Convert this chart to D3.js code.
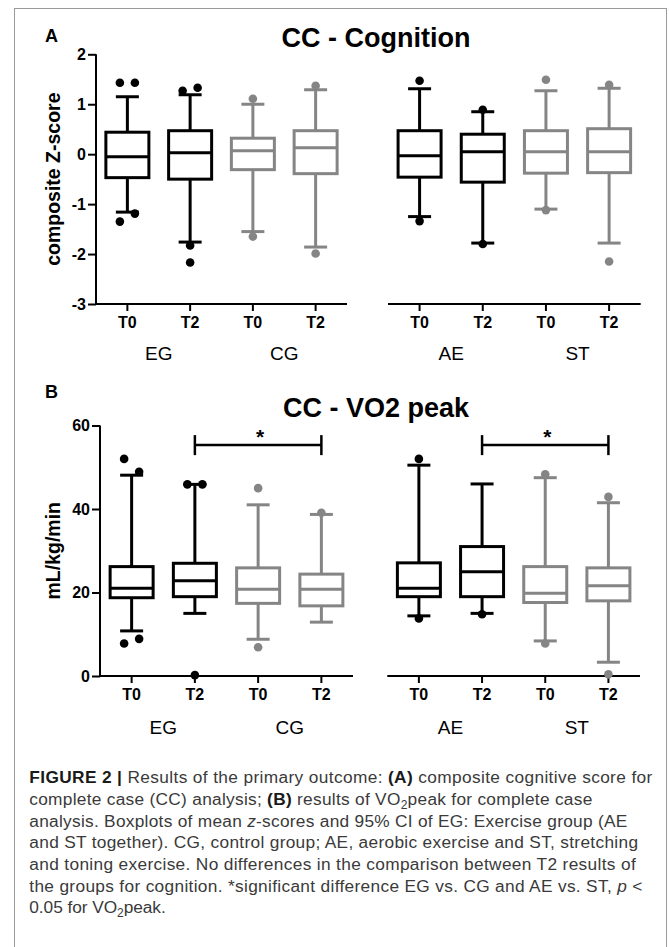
<!DOCTYPE html>
<html><head><meta charset="utf-8">
<script src="https://cdn.jsdelivr.net/npm/d3@7"></script>
<style>body{margin:0;background:#fff}svg{display:block}</style>
</head><body>
<svg id="c" width="669" height="947"></svg>
<script>
// ---------------- DATA ----------------
const categories = ["EG T0","EG T2","CG T0","CG T2","AE T0","AE T2","ST T0","ST T2"];
const tickLabels = ["T0","T2","T0","T2","T0","T2","T0","T2"];
const groupLabels = ["EG","CG","AE","ST"];
const boxColors = ["black","black","gray","gray","black","black","gray","gray"];

// Panel A: composite Z-score
const cogWhiskerLow  = [-1.16, -1.76, -1.55, -1.86, -1.25, -1.78, -1.10, -1.78];
const cogQ1          = [-0.47, -0.50, -0.31, -0.39, -0.46, -0.56, -0.38, -0.37];
const cogMedian      = [-0.05,  0.03,  0.07,  0.13, -0.03,  0.05,  0.05,  0.05];
const cogQ3          = [ 0.44,  0.47,  0.32,  0.47,  0.47,  0.40,  0.47,  0.51];
const cogWhiskerHigh = [ 1.15,  1.19,  1.00,  1.29,  1.31,  0.85,  1.27,  1.32];
const cogOutliers    = [[1.43,1.43,-1.35,-1.19],[1.27,1.33,-1.83,-2.17],[1.11,-1.65],[1.37,-1.99],
                        [1.47,-1.34],[0.89,-1.80],[1.49,-1.12],[1.39,-2.15]];
const cogTicks = [-3,-2,-1,0,1,2];

// Panel B: VO2 peak (mL/kg/min)
const voWhiskerLow  = [10.8, 15.0,  8.8, 12.9, 14.4, 15.0,  8.4,  3.3];
const voQ1          = [18.75,19.0, 17.4, 16.8, 19.0, 19.0, 17.6, 18.0];
const voMedian      = [21.0, 22.8, 20.8, 20.8, 21.0, 25.0, 19.8, 21.6];
const voQ3          = [26.2, 27.0, 25.9, 24.4, 27.1, 31.0, 26.2, 25.9];
const voWhiskerHigh = [48.1, 45.9, 41.0, 38.7, 50.5, 46.0, 47.5, 41.5];
const voOutliers    = [[52.0,48.9,7.8,8.9],[45.9,45.9,0.2],[45.0,6.9],[39.1],
                       [52.0,13.8],[14.8],[48.3,7.8],[42.9,0.4]];
const voTicks = [0,20,40,60];
const voSigPairs = [["EG T2","CG T2"],["AE T2","ST T2"]];
const voSigLevel = 55.3;
const voSigLabel = "*";

// caption
const captionLines = [
  [["FIGURE 2 | ","b"],["Results of the primary outcome: ",""],["(A)","b"],[" composite cognitive score for",""]],
  [["complete case (CC) analysis; ",""],["(B)","b"],[" results of VO",""],["2","sub"],["peak for complete case",""]],
  [["analysis. Boxplots of mean ",""],["z","i"],["-scores and 95% CI of EG: Exercise group (AE",""]],
  [["and ST together). CG, control group; AE, aerobic exercise and ST, stretching",""]],
  [["and toning exercise. No differences in the comparison between T2 results of",""]],
  [["the groups for cognition. *significant difference EG vs. CG and AE vs. ST, ",""],["p","i"],[" <",""]],
  [["0.05 for VO",""],["2","sub"],["peak.",""]]
];

// ---------------- LAYOUT ----------------
const FONT = "'Liberation Sans', Arial, Helvetica, sans-serif";
const colorMap = {black:"#000000", gray:"#858585"};
const svg = d3.select("#c");

svg.append("rect").attr("x",14.5).attr("y",8.5).attr("width",652).attr("height",980)
  .attr("fill","none").attr("stroke","#9a9a9a").attr("stroke-width",1);

function drawPanel(p){
  const g = svg.append("g");
  const y = d3.scaleLinear().domain(p.yDomain).range(p.yRange);
  const xl = d3.scaleBand().domain(categories.slice(0,4)).range(p.leftRange);
  const xr = d3.scaleBand().domain(categories.slice(4)).range(p.rightRange);
  const xc = c => { const s = categories.indexOf(c) < 4 ? xl : xr; return s(c) + s.bandwidth()/2; };

  // panel letter & title
  g.append("text").attr("x",p.letterX).attr("y",p.letterY).text(p.letter)
    .attr("font-family",FONT).attr("font-weight","bold").attr("font-size",18);
  g.append("text").attr("x",p.titleX).attr("y",p.titleY).attr("text-anchor","middle").text(p.title)
    .attr("font-family",FONT).attr("font-weight","bold").attr("font-size",27);

  // y axis
  const ya = g.append("g").attr("transform",`translate(${p.leftRange[0]},0)`)
    .call(d3.axisLeft(y).tickValues(p.ticks).tickFormat(d => String(d))
          .tickSize(8).tickSizeOuter(0).tickPadding(2));
  ya.selectAll("path,line").attr("stroke","#000").attr("stroke-width",2);
  ya.selectAll("text").attr("font-family",FONT).attr("font-weight","bold").attr("font-size",16).attr("fill","#000");
  ya.select(".domain").attr("d",`M0,${p.yRange[0]}V${p.yRange[1]}`);
  g.append("text").attr("transform",`translate(${p.yLabelX},${(p.yRange[0]+p.yRange[1])/2}) rotate(-90)`)
    .attr("text-anchor","middle").text(p.yLabel)
    .attr("font-family",FONT).attr("font-weight","bold").attr("font-size",19.5);

  // x axes (two segments)
  [xl, xr].forEach((s, k) => {
    const xa = g.append("g").attr("transform",`translate(0,${p.yRange[0]})`)
      .call(d3.axisBottom(s).tickSize(7).tickSizeOuter(0).tickPadding(6)
            .tickFormat(c => tickLabels[categories.indexOf(c)]));
    xa.selectAll("path,line").attr("stroke","#000").attr("stroke-width",2);
    xa.select(".domain").attr("d",`M${s.range()[0]},0H${s.range()[1]}`);
    xa.selectAll("text").attr("font-family",FONT).attr("font-weight","bold").attr("font-size",16).attr("fill","#000");
    // group labels
    const doms = s.domain();
    [0,1].forEach(j => {
      const a = doms[2*j], b = doms[2*j+1];
      g.append("text").attr("x",(s(a)+s(b))/2 + s.bandwidth()/2).attr("y",p.yRange[0]+p.groupDy)
        .attr("text-anchor","middle").text(groupLabels[k*2+j])
        .attr("font-family",FONT).attr("font-size",19);
    });
  });

  // boxes
  const bw = 43, cw = 23, sw = 3;
  categories.forEach((c,i) => {
    const cx = xc(c), col = colorMap[boxColors[i]];
    const bg = g.append("g").attr("stroke",col).attr("stroke-width",sw).attr("fill","none");
    bg.append("line").attr("x1",cx).attr("x2",cx).attr("y1",y(p.q3[i])).attr("y2",y(p.hi[i]));
    bg.append("line").attr("x1",cx).attr("x2",cx).attr("y1",y(p.q1[i])).attr("y2",y(p.lo[i]));
    bg.append("line").attr("x1",cx-cw/2).attr("x2",cx+cw/2).attr("y1",y(p.hi[i])).attr("y2",y(p.hi[i]));
    bg.append("line").attr("x1",cx-cw/2).attr("x2",cx+cw/2).attr("y1",y(p.lo[i])).attr("y2",y(p.lo[i]));
    bg.append("rect").attr("x",cx-bw/2).attr("width",bw).attr("y",y(p.q3[i]))
      .attr("height",y(p.q1[i])-y(p.q3[i])).attr("fill","#fff");
    bg.append("line").attr("x1",cx-bw/2).attr("x2",cx+bw/2).attr("y1",y(p.med[i])).attr("y2",y(p.med[i]));
  });

  // outliers: nearby points are spread sideways (column scatter layout)
  categories.forEach((c,i) => {
    const cx = xc(c), col = colorMap[boxColors[i]];
    const pts = p.out[i];
    const clusters = [];
    pts.forEach((v,k) => {
      const last = clusters[clusters.length-1];
      if (last && Math.abs(y(v) - y(pts[k-1])) < 15) last.push(v); else clusters.push([v]);
    });
    clusters.forEach(cl => cl.forEach((v,k) => {
      g.append("circle").attr("cx", cx + (k-(cl.length-1)/2)*15).attr("cy", y(v)).attr("r",4.3).attr("fill",col);
    }));
  });

  // significance brackets
  if (p.sig) p.sig.forEach(([a,b]) => {
    const x1 = xc(a), x2 = xc(b), yy = y(p.sigLevel);
    const sg = g.append("g").attr("stroke","#000").attr("stroke-width",2.5);
    sg.append("line").attr("x1",x1).attr("x2",x2).attr("y1",yy).attr("y2",yy);
    sg.append("line").attr("x1",x1).attr("x2",x1).attr("y1",yy-10).attr("y2",yy+10);
    sg.append("line").attr("x1",x2).attr("x2",x2).attr("y1",yy-10).attr("y2",yy+10);
    g.append("text").attr("x",(x1+x2)/2+2).attr("y",yy-1).attr("text-anchor","middle").text(p.sigLabel)
      .attr("font-family",FONT).attr("font-size",21).attr("font-weight","bold");
  });
}

drawPanel({
  letter:"A", letterX:45, letterY:41.7, title:"CC - Cognition", titleX:376, titleY:46.5,
  yDomain:[-3,2], yRange:[304,54.3], ticks:cogTicks, leftRange:[96,347], rightRange:[388,640.7],
  yLabel:"composite Z-score", yLabelX:60, groupDy:56,
  lo:cogWhiskerLow, q1:cogQ1, med:cogMedian, q3:cogQ3, hi:cogWhiskerHigh, out:cogOutliers
});
drawPanel({
  letter:"B", letterX:45, letterY:398.3, title:"CC - VO2 peak", titleX:376, titleY:416.7,
  yDomain:[0,60], yRange:[676,425.5], ticks:voTicks, leftRange:[100,353], rightRange:[387.3,640],
  yLabel:"mL/kg/min", yLabelX:60, groupDy:57.5,
  lo:voWhiskerLow, q1:voQ1, med:voMedian, q3:voQ3, hi:voWhiskerHigh, out:voOutliers,
  sig:voSigPairs, sigLevel:voSigLevel, sigLabel:voSigLabel
});

// caption
const capWidths = [623, 563, 598, 608.7, 606.4, 613, 136.4];
captionLines.forEach((line, li) => {
  const t = svg.append("text").attr("x",29.3).attr("y",783.3 + li*21.67)
    .attr("font-family",FONT).attr("font-size",17.3).attr("fill","#3a3a3a")
    .attr("textLength",capWidths[li]).attr("lengthAdjust","spacing");
  let shifted = false;
  line.forEach(([txt, st]) => {
    const ts = t.append("tspan").text(txt);
    if (st === "b") ts.attr("font-weight","bold").attr("fill","#1a1a1a");
    if (st === "i") ts.attr("font-style","italic");
    if (st === "sub") { ts.attr("font-size",12).attr("dy",4); shifted = true; }
    else if (shifted) { ts.attr("dy",-4); shifted = false; }
  });
});
</script>
</body></html>
